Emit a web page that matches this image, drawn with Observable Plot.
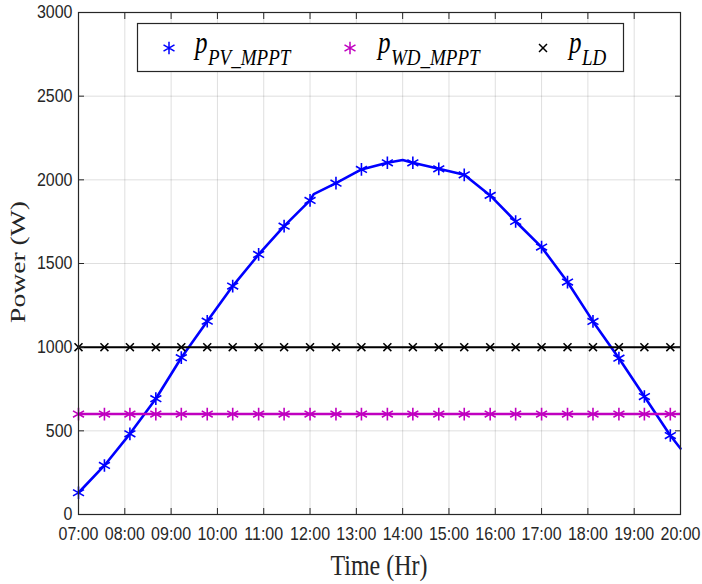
<!DOCTYPE html>
<html>
<head>
<meta charset="utf-8">
<script src="https://cdn.jsdelivr.net/npm/d3@7"></script>
<script src="https://cdn.jsdelivr.net/npm/@observablehq/plot@0.6"></script>
<style>
  body { margin: 0; background: #fff; }
  #chart { position: relative; width: 702px; height: 584px; }
</style>
</head>
<body>
<div id="chart"></div>
<script>
// ---- data ----
const hourTicks = [7, 8, 9, 10, 11, 12, 13, 14, 15, 16, 17, 18, 19, 20];
const powerTicks = [0, 500, 1000, 1500, 2000, 2500, 3000];
const markerHours = [7.00, 7.56, 8.11, 8.67, 9.22, 9.78, 10.33, 10.89, 11.44, 12.00, 12.56, 13.11,
                     13.67, 14.22, 14.78, 15.33, 15.89, 16.44, 17.00, 17.56, 18.11, 18.67, 19.22, 19.78];
const pvAtMarkers = [130, 293, 482, 692, 937, 1155, 1365, 1554, 1723, 1877, 1980, 2062,
                     2102, 2102, 2066, 2030, 1907, 1751, 1598, 1389, 1154, 934, 705, 472];
const pvExtraHours = [12.08, 14.0, 20.0];
const pvExtraPower = [1915, 2118, 394];
const wdPower = [600];
const ldPower = [1000];
const seriesNames = ["PV_MPPT", "WD_MPPT", "LD"];
const seriesColors = ["#0000ff", "#c000c0", "#000000"];

// ---- build tables ----
const pvLine = markerHours.map((h, i) => ({h, p: pvAtMarkers[i]}))
  .concat(pvExtraHours.map((h, i) => ({h, p: pvExtraPower[i]})))
  .sort((a, b) => a.h - b.h);
const pvMarks = markerHours.map((h, i) => ({h, p: pvAtMarkers[i]}));
const wdMarks = markerHours.map(h => ({h, p: wdPower[0]}));
const ldMarks = markerHours.map(h => ({h, p: ldPower[0]}));

const fmt = h => String(h).padStart(2, "0") + ":00";
const gridStyle = {stroke: "#262626", strokeOpacity: 0.15, strokeWidth: 1};

const plot = Plot.plot({
  width: 702,
  height: 584,
  marginLeft: 78,
  marginRight: 22,
  marginTop: 12,
  marginBottom: 70,
  style: {fontFamily: "'Liberation Sans', Arial, sans-serif", fontSize: "16px", color: "#262626", background: "#fff"},
  x: {domain: [7, 20], ticks: hourTicks, tickFormat: fmt},
  y: {domain: [0, 3000], ticks: powerTicks, tickFormat: d => String(d)},
  marks: [
    Plot.gridX(hourTicks, gridStyle),
    Plot.gridY(powerTicks, gridStyle),
    Plot.line(pvLine, {x: "h", y: "p", stroke: seriesColors[0], strokeWidth: 2.6}),
    Plot.dot(pvMarks, {x: "h", y: "p", symbol: "asterisk", r: 6, stroke: seriesColors[0], strokeWidth: 1.6}),
    Plot.ruleY(wdPower, {stroke: seriesColors[1], strokeWidth: 2.5}),
    Plot.dot(wdMarks, {x: "h", y: "p", symbol: "asterisk", r: 6, stroke: seriesColors[1], strokeWidth: 1.6}),
    Plot.ruleY(ldPower, {stroke: seriesColors[2], strokeWidth: 2}),
    Plot.dot(ldMarks, {x: "h", y: "p", symbol: "times", r: 3.7, stroke: seriesColors[2], strokeWidth: 1.5}),
    Plot.frame({stroke: "#262626", strokeWidth: 1.2}),
    Plot.axisX({anchor: "bottom", ticks: hourTicks, tickFormat: fmt, tickSize: 0, tickPadding: 13, label: null}),
    Plot.axisY({anchor: "left", ticks: powerTicks, tickFormat: d => String(d), tickSize: 0, tickPadding: 6, label: null}),
    Plot.axisX({anchor: "bottom", ticks: hourTicks, tickSize: -6, tickFormat: () => "", label: null, stroke: "#262626"}),
    Plot.axisX({anchor: "top", ticks: hourTicks, tickSize: -6, tickFormat: () => "", label: null, stroke: "#262626"}),
    Plot.axisY({anchor: "left", ticks: powerTicks, tickSize: -6, tickFormat: () => "", label: null, stroke: "#262626"}),
    Plot.axisY({anchor: "right", ticks: powerTicks, tickSize: -6, tickFormat: () => "", label: null, stroke: "#262626"})
  ]
});

document.getElementById("chart").appendChild(plot);
const svg = d3.select(plot);

// stretch tick labels vertically as in the reference
svg.selectAll('g[aria-label="x-axis tick label"] text, g[aria-label="y-axis tick label"] text')
  .attr("transform", function() { return (this.getAttribute("transform") || "") + " scale(1,1.12)"; });

// axis titles
svg.append("text")
  .attr("transform", "translate(379,575) scale(1,1.26)")
  .attr("text-anchor", "middle")
  .attr("fill", "#262626")
  .style("font-family", "'Liberation Serif', 'Times New Roman', serif")
  .style("font-size", "24px")
  .text("Time (Hr)");
svg.append("text")
  .attr("transform", "translate(25,262) rotate(-90) scale(1.38,1)")
  .attr("text-anchor", "middle")
  .attr("fill", "#262626")
  .style("font-family", "'Liberation Serif', 'Times New Roman', serif")
  .style("font-size", "20px")
  .text("Power (W)");

// legend
const lg = svg.append("g").attr("class", "legend").attr("text-anchor", "start");
lg.append("rect").attr("x", 137.5).attr("y", 23.5).attr("width", 486).attr("height", 48)
  .attr("fill", "#fff").attr("stroke", "#262626").attr("stroke-width", 1.2);
const legendSym = [d3.symbolAsterisk, d3.symbolAsterisk, d3.symbolTimes];
const legendSize = [Math.PI * 6 * 6, Math.PI * 6 * 6, Math.PI * 3.7 * 3.7];
const symX = [169, 350, 543];
const textX = [195, 378, 569];
seriesNames.forEach((name, i) => {
  lg.append("path")
    .attr("d", d3.symbol(legendSym[i], legendSize[i])())
    .attr("transform", `translate(${symX[i]},48)`)
    .attr("fill", "none").attr("stroke", seriesColors[i]).attr("stroke-width", 1.5);
  lg.append("text")
    .attr("text-anchor", "start")
    .attr("transform", `translate(${textX[i]},53) scale(1,1.3)`)
    .style("font-family", "'Liberation Serif', 'Times New Roman', serif")
    .style("font-style", "italic").style("font-size", "25px").attr("fill", "#000")
    .text("p");
  lg.append("text")
    .attr("text-anchor", "start")
    .attr("transform", `translate(${textX[i] + 13},65) scale(1,1.22)`)
    .style("font-family", "'Liberation Serif', 'Times New Roman', serif")
    .style("font-style", "italic").style("font-size", "19px").attr("fill", "#000")
    .text(name);
});
</script>
</body>
</html>
